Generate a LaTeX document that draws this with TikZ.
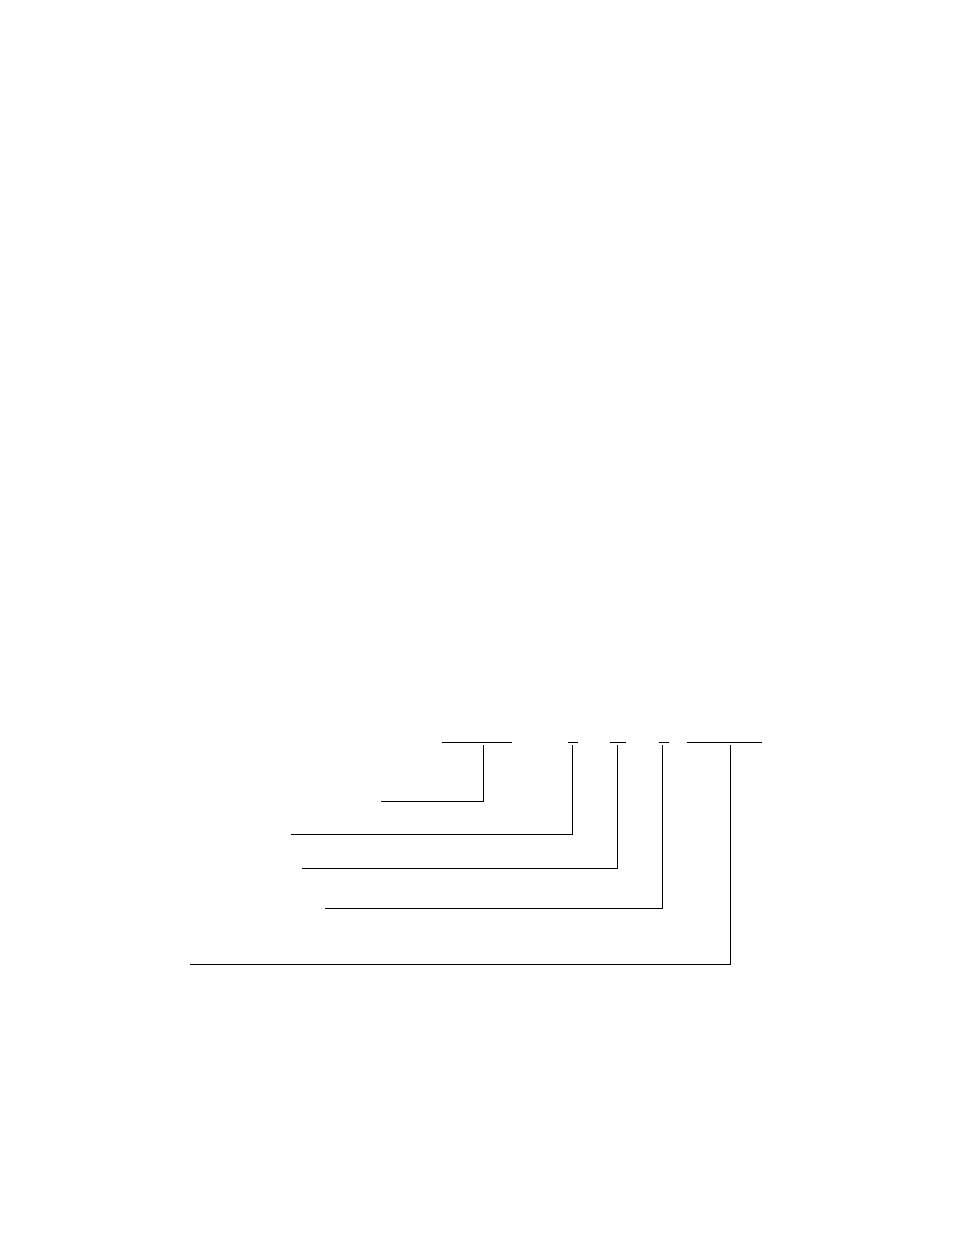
\documentclass[tikz,border=0pt]{standalone}
\begin{document}
\begin{tikzpicture}[x=1pt,y=-1pt,
  bar/.style={draw=black,line width=0.9pt},
  leader/.style={draw=black,line width=0.8pt}]
\useasboundingbox (0,0) rectangle (954,1235);
% top bars
\coordinate (b1l) at (442,742); \coordinate (b1r) at (512,742);
\coordinate (b2l) at (568,742); \coordinate (b2r) at (578,742);
\coordinate (b3l) at (610,742); \coordinate (b3r) at (626,742);
\coordinate (b4l) at (659,742); \coordinate (b4r) at (669,742);
\coordinate (b5l) at (687,742); \coordinate (b5r) at (762,742);
\draw[bar] (b1l) -- (b1r);
\draw[bar] (b2l) -- (b2r);
\draw[bar] (b3l) -- (b3r);
\draw[bar] (b4l) -- (b4r);
\draw[bar] (b5l) -- (b5r);
% leader start points (just below bars)
\coordinate (s1) at (483,745);
\coordinate (s2) at (572.5,745);
\coordinate (s3) at (617.5,745);
\coordinate (s4) at (662.5,745);
\coordinate (s5) at (730,745);
% leader free ends
\coordinate (e1) at (381,801);
\coordinate (e2) at (291,834);
\coordinate (e3) at (302,868);
\coordinate (e4) at (325,908);
\coordinate (e5) at (190,964);
\draw[leader] (s1) |- (e1);
\draw[leader] (s2) |- (e2);
\draw[leader] (s3) |- (e3);
\draw[leader] (s4) |- (e4);
\draw[leader] (s5) |- (e5);
\end{tikzpicture}
\end{document}
